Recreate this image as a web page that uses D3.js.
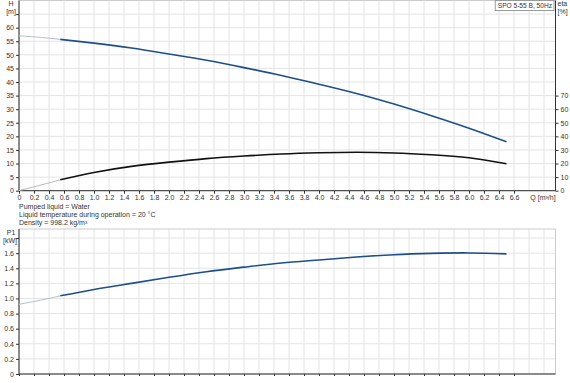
<!DOCTYPE html>
<html><head><meta charset="utf-8">
<script src="https://cdn.jsdelivr.net/npm/d3@7"></script>
<style>
body{margin:0;background:#fff;}
svg{display:block;font-family:"Liberation Sans",Arial,sans-serif;}
</style></head><body>
<svg id="c" width="570" height="383"></svg>
<script>
// ---- data ----
const qTicks = [0,0.2,0.4,0.6,0.8,1.0,1.2,1.4,1.6,1.8,2.0,2.2,2.4,2.6,2.8,3.0,3.2,3.4,3.6,3.8,4.0,4.2,4.4,4.6,4.8,5.0,5.2,5.4,5.6,5.8,6.0,6.2,6.4,6.6];
const hTicks = [0,5,10,15,20,25,30,35,40,45,50,55,60];
const etaTicks = [0,10,20,30,40,50,60,70];
const pTicks = [0,0.2,0.4,0.6,0.8,1.0,1.2,1.4,1.6];

const qPts = [0.55,1.0,1.5,2.0,2.5,3.0,3.5,4.0,4.5,5.0,5.5,6.0,6.5];
const hVals = [55.7,54.3,52.5,50.3,48.0,45.3,42.4,39.2,35.8,31.9,27.6,23.0,18.0];
const etaVals = [8.0,13.4,17.9,21.0,23.6,25.5,27.0,27.9,28.3,27.8,26.5,24.3,19.8];
const pVals = [1.035,1.12,1.20,1.28,1.355,1.415,1.47,1.51,1.55,1.58,1.597,1.603,1.59];

const qExt = [0,0.3,0.55];
const hExt = [57.0,56.4,55.7];
const etaExt = [0,4.3,8.0];
const pExt = [0.923,0.98,1.035];

const legendText = "SPO 5-55 B, 50Hz";
const infoLines = ["Pumped liquid = Water","Liquid temperature during operation = 20 °C","Density = 998.2 kg/m³"];

// ---- layout ----
const svg = d3.select("#c");
const L = 19, R = 555.5;
const x = d3.scaleLinear().domain([0, (R-L)/75]).range([L, R]);
const topY0 = 190.7, topY1 = 0.5;
const yH = d3.scaleLinear().domain([0,70]).range([topY0, topY1]);
const yEta = d3.scaleLinear().domain([0,140]).range([topY0, topY1]);
const botY0 = 374, botY1 = 229;
const yP = d3.scaleLinear().domain([0,1.92]).range([botY0, botY1]);

const gridC = "#e4e4e4", axisC = "#333", txtC = "#333", fs = 7;
const gridQ = d3.range(0, 36).map(i => i*0.2);

function grid(yScale, hVals, yTop, yBot){
  const g = svg.append("g");
  g.selectAll("line.v").data(gridQ.slice(1)).join("line")
    .attr("x1", d=>x(d)).attr("x2", d=>x(d)).attr("y1", yTop).attr("y2", yBot)
    .attr("stroke", gridC).attr("stroke-width",1);
  g.selectAll("line.h").data(hVals).join("line")
    .attr("x1", L).attr("x2", R).attr("y1", d=>yScale(d)).attr("y2", d=>yScale(d))
    .attr("stroke", gridC).attr("stroke-width",1);
}

grid(yH, d3.range(5,71,5), topY1, topY0);
svg.append("rect").attr("x",L).attr("y",topY1).attr("width",R-L).attr("height",topY0-topY1)
  .attr("fill","none").attr("stroke","#ccc");
grid(yP, d3.range(1,10).map(i=>i*0.2), botY1, botY0);
svg.append("rect").attr("x",L).attr("y",botY1).attr("width",R-L).attr("height",botY0-botY1)
  .attr("fill","none").attr("stroke","#ccc");

function styleAxis(g){
  g.selectAll("path.domain").attr("stroke",axisC);
  g.selectAll(".tick line").attr("stroke",axisC);
  g.selectAll("text").attr("fill",txtC).style("font-size",fs+"px").style("font-family","'Liberation Sans',Arial,sans-serif");
}

const axH = svg.append("g").attr("transform",`translate(${L},0)`)
  .call(d3.axisLeft(yH).tickValues(hTicks.concat([65])).tickSize(3).tickSizeOuter(0).tickFormat(d=> d===65?"":d3.format("d")(d)).tickPadding(2));
axH.select("path.domain").attr("d",`M0,${topY1}V${topY0}`);
styleAxis(axH);
const axEta = svg.append("g").attr("transform",`translate(${R},0)`)
  .call(d3.axisRight(yEta).tickValues(etaTicks).tickSize(3).tickSizeOuter(0).tickPadding(2));
axEta.select("path.domain").attr("d",`M0,${topY1}V${topY0}`);
styleAxis(axEta);
const axQ = svg.append("g").attr("transform",`translate(0,${topY0})`)
  .call(d3.axisBottom(x).tickValues(qTicks).tickSize(3).tickSizeOuter(0).tickPadding(1)
    .tickFormat(d=> d===0?"0":d3.format(".1f")(d)));
axQ.select("path.domain").attr("d",`M${L},0H${R}`);
styleAxis(axQ);
svg.append("text").attr("x",x(7.0)-1).attr("y",topY0+9).attr("text-anchor","middle")
  .attr("fill",txtC).style("font-size",fs+"px").text("Q [m³/h]");

const axP = svg.append("g").attr("transform",`translate(${L},0)`)
  .call(d3.axisLeft(yP).tickValues(pTicks.concat([1.8])).tickSize(3).tickSizeOuter(0).tickPadding(2)
    .tickFormat(d=> d===1.8?"":(d===0?"0":d3.format(".1f")(d))));
axP.select("path.domain").attr("d",`M0,${botY1}V${botY0}`);
styleAxis(axP);
const axQ2 = svg.append("g").attr("transform",`translate(0,${botY0})`)
  .call(d3.axisBottom(x).tickValues(qTicks).tickSize(2).tickSizeOuter(0).tickFormat(""));
axQ2.select("path.domain").attr("d",`M${L},0H${R}`);
styleAxis(axQ2);

function label(xp, yp, t, anchor){
  svg.append("text").attr("x",xp).attr("y",yp).attr("text-anchor",anchor||"middle")
    .attr("fill",txtC).style("font-size",fs+"px").text(t);
}
label(11,6,"H"); label(11,14,"[m]");
label(557.5,6,"eta","start"); label(557.5,14,"[%]","start");
label(11,235,"P1"); label(10,243,"[kW]");

infoLines.forEach((t,i)=> label(L, 209+i*8.2, t, "start"));

// legend
const lg = svg.append("g");
const lt = lg.append("text").attr("x",552).attr("y",8).attr("text-anchor","end")
  .attr("fill",txtC).style("font-size","6.6px").text(legendText);
const bb = lt.node().getBBox();
lg.insert("rect","text").attr("x",bb.x-2.5).attr("y",0.5).attr("width",bb.width+4.5).attr("height",10)
  .attr("fill","#fff").attr("stroke","#999");

function curve(xs, ys, yScale, color, w){
  const line = d3.line().x(d=>x(d[0])).y(d=>yScale(d[1])).curve(d3.curveNatural);
  svg.append("path").datum(xs.map((q,i)=>[q,ys[i]])).attr("d",line)
    .attr("fill","none").attr("stroke",color).attr("stroke-width",w);
}
const blue = "#1c4f8a";
curve(qExt, hExt, yH, "#b4bfd2", 1);
curve(qPts, hVals, yH, blue, 1.6);
curve(qExt, etaExt, yEta, "#b8b8b8", 1);
curve(qPts, etaVals, yEta, "#111", 1.6);
curve(qExt, pExt, yP, "#b4bfd2", 1);
curve(qPts, pVals, yP, blue, 1.6);
</script>
</body></html>
